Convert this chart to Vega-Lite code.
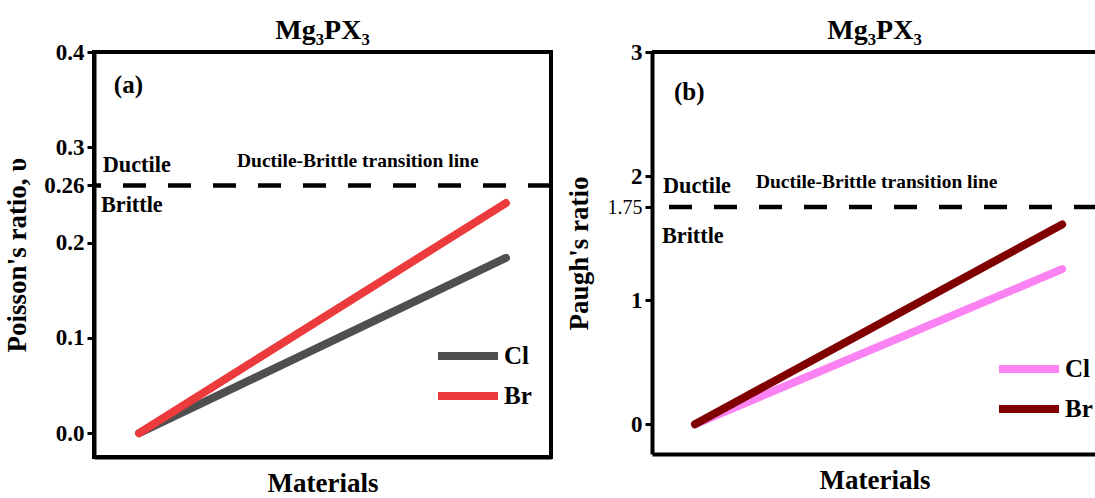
{
  "$schema": "https://vega.github.io/schema/vega-lite/v6.json",
  "background": "white",
  "padding": {"left": 1, "top": 15, "right": 0, "bottom": 0},
  "spacing": 9,
  "datasets": {
    "poisson": [
      {"material": 1, "value": 0, "element": "Cl"},
      {"material": 2, "value": 0.184, "element": "Cl"},
      {"material": 1, "value": 0, "element": "Br"},
      {"material": 2, "value": 0.2415, "element": "Br"}
    ],
    "pugh": [
      {"material": 1, "value": 0, "element": "Cl"},
      {"material": 2, "value": 1.25, "element": "Cl"},
      {"material": 1, "value": 0, "element": "Br"},
      {"material": 2, "value": 1.61, "element": "Br"}
    ],
    "poissonLimit": [{"limit": 0.26}],
    "pughLimit": [{"limit": 1.75}],
    "pughTop": [{"top": 3}],
    "poissonNotes": [
      {"x": 0.931, "y": 0.365, "label": "(a)", "kind": "panel"},
      {"x": 0.901, "y": 0.2814, "label": "Ductile", "kind": "side"},
      {"x": 0.896, "y": 0.2394, "label": "Brittle", "kind": "side"},
      {"x": 1.267, "y": 0.2856, "label": "Ductile-Brittle transition line", "kind": "line"}
    ],
    "pughNotes": [
      {"x": 0.943, "y": 2.68, "label": "(b)", "kind": "panel"},
      {"x": 0.913, "y": 1.919, "label": "Ductile", "kind": "side"},
      {"x": 0.91, "y": 1.52, "label": "Brittle", "kind": "side"},
      {"x": 1.166, "y": 1.95, "label": "Ductile-Brittle transition line", "kind": "line"}
    ]
  },
  "config": {
    "font": "Liberation Serif",
    "text": {"font": "Liberation Serif"},
    "axis": {
      "grid": false,
      "domainColor": "black",
      "domainWidth": 4,
      "tickColor": "black",
      "tickWidth": 3,
      "tickSize": 7,
      "labelFont": "Liberation Serif",
      "labelFontWeight": "bold",
      "labelFontSize": 23,
      "labelColor": "black",
      "titleFont": "Liberation Serif",
      "titleFontWeight": "bold",
      "titleFontSize": 27,
      "titleColor": "black"
    },
    "title": {"font": "Liberation Serif", "fontWeight": "bold", "fontSize": 28, "color": "black", "offset": -4},
    "legend": {
      "labelFont": "Liberation Serif",
      "labelFontWeight": "bold",
      "labelFontSize": 25,
      "labelColor": "black",
      "symbolType": "M-1,0H3",
      "symbolSize": 900,
      "symbolStrokeWidth": 8,
      "rowPadding": 5,
      "labelOffset": 32,
      "title": null
    }
  },
  "hconcat": [
    {
      "width": 457,
      "height": 405,
      "title": {"text": "Mg₃PX₃"},
      "view": {"stroke": "black", "strokeWidth": 4},
      "layer": [
        {
          "data": {"name": "poissonLimit"},
          "mark": {"type": "rule", "color": "black", "strokeWidth": 4.5, "strokeDash": [23, 22]},
          "encoding": {"y": {"field": "limit", "type": "quantitative"}}
        },
        {
          "data": {"name": "poisson"},
          "mark": {"type": "line", "strokeWidth": 8, "strokeCap": "round"},
          "encoding": {
            "x": {"field": "material", "type": "quantitative", "scale": {"domain": [0.877, 2.123], "nice": false, "zero": false},
                  "axis": {"title": "Materials", "labels": false, "ticks": false, "titlePadding": 13}},
            "y": {"field": "value", "type": "quantitative", "scale": {"domain": [-0.025, 0.4], "nice": false, "zero": false},
                  "axis": {"title": "Poisson's ratio, υ", "values": [0, 0.1, 0.2, 0.26, 0.3, 0.4],
                           "labelExpr": "datum.value == 0.26 ? '0.26' : format(datum.value, '.1f')", "titlePadding": 12, "labelPadding": 3}},
            "color": {"field": "element", "type": "nominal",
                      "scale": {"domain": ["Cl", "Br"], "range": ["#4f4f4f", "#ec3b3d"]},
                      "legend": {"orient": "none", "legendX": 340, "legendY": 285}}
          }
        },
        {
          "data": {"name": "poissonNotes"},
          "mark": {"type": "text", "fontWeight": "bold", "color": "black", "baseline": "middle", "align": "left", "font": "Liberation Serif"},
          "encoding": {
            "x": {"field": "x", "type": "quantitative"},
            "y": {"field": "y", "type": "quantitative"},
            "text": {"field": "label"},
            "size": {"field": "kind", "type": "nominal", "scale": {"domain": ["panel", "side", "line"], "range": [25, 19.5, 18]}, "legend": null}
          }
        }
      ]
    },
    {
      "width": 445,
      "height": 402,
      "title": {"text": "Mg₃PX₃"},
      "view": {"stroke": null},
      "layer": [
        {
          "data": {"name": "pughTop"},
          "mark": {"type": "rule", "color": "black", "strokeWidth": 4},
          "encoding": {"y": {"field": "top", "type": "quantitative"}}
        },
        {
          "data": {"name": "pughLimit"},
          "mark": {"type": "rule", "color": "black", "strokeWidth": 4.5, "strokeDash": [23, 22]},
          "encoding": {"y": {"field": "limit", "type": "quantitative"}}
        },
        {
          "data": {"name": "pugh"},
          "mark": {"type": "line", "strokeWidth": 8, "strokeCap": "round"},
          "encoding": {
            "x": {"field": "material", "type": "quantitative", "scale": {"domain": [0.883, 2.095], "nice": false, "zero": false},
                  "axis": {"title": "Materials", "labels": false, "ticks": false, "titlePadding": 13}},
            "y": {"field": "value", "type": "quantitative", "scale": {"domain": [-0.24, 3], "nice": false, "zero": false},
                  "axis": {"title": "Paugh's ratio", "values": [0, 1, 1.75, 2, 3], "titlePadding": 14, "labelPadding": 3,
                           "labelExpr": "datum.value == 1.75 ? '1.75' : format(datum.value, 'd')",
                           "labelFontWeight": {"condition": {"test": "datum.value == 1.75", "value": "normal"}, "value": "bold"},
                           "labelFontSize": {"condition": {"test": "datum.value == 1.75", "value": 20}, "value": 23}}},
            "color": {"field": "element", "type": "nominal",
                      "scale": {"domain": ["Cl", "Br"], "range": ["#fa82f2", "#800000"]},
                      "legend": {"orient": "none", "legendX": 343, "legendY": 298}}
          }
        },
        {
          "data": {"name": "pughNotes"},
          "mark": {"type": "text", "fontWeight": "bold", "color": "black", "baseline": "middle", "align": "left", "font": "Liberation Serif"},
          "encoding": {
            "x": {"field": "x", "type": "quantitative"},
            "y": {"field": "y", "type": "quantitative"},
            "text": {"field": "label"},
            "size": {"field": "kind", "type": "nominal", "scale": {"domain": ["panel", "side", "line"], "range": [25, 19.5, 18]}, "legend": null}
          }
        }
      ],
      "resolve": {"scale": {"color": "independent", "size": "independent"}}
    }
  ],
  "resolve": {"scale": {"color": "independent", "size": "independent"}}
}
